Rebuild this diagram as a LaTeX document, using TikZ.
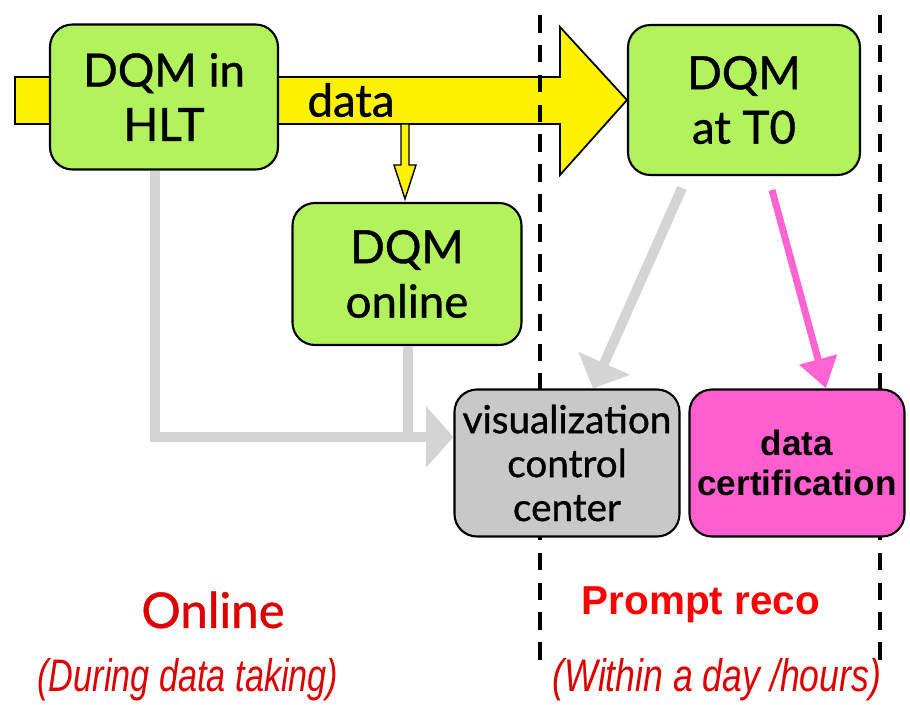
\documentclass[tikz,border=0pt]{standalone}
\usepackage{fontspec}
\setmainfont{Lato}
\newfontfamily\boxfont{Lato}[FakeBold=0.9]
\newfontfamily\arialfont{Liberation Sans}
\usetikzlibrary{arrows.meta}
\definecolor{boxgreen}{RGB}{178,242,92}
\definecolor{boxgray}{RGB}{200,200,200}
\definecolor{boxpink}{RGB}{255,94,207}
\definecolor{linegray}{RGB}{212,212,212}
\definecolor{arrowpink}{RGB}{255,100,210}
\definecolor{labelred}{RGB}{220,0,0}
\tikzset{
  dqmbox/.style={draw=black, line width=1.2pt, rounded corners=0.45cm, fill=boxgreen,
    align=center, inner sep=0pt, font=\boxfont\fontsize{26}{31}\selectfont},
  flow/.style={draw=linegray, line width=0.2cm},
  divider/.style={black, line width=1.8pt, dash pattern=on 10pt off 7pt}
}
\begin{document}
\begin{tikzpicture}[x=0.02cm,y=-0.02cm]
\useasboundingbox (0,0) rectangle (910,704);
\draw [black, line width=1pt, fill=yellow] (15,77) -- (560,77) -- (560,27) -- (627,100) -- (560,175) -- (560,124) -- (15,124) -- cycle;
\draw [black, line width=0.8pt, fill=yellow] (401,124) -- (409,124) -- (409,165) -- (416,165) -- (405,199) -- (394,165) -- (401,165) -- cycle;
\node (datalabel) at (351,100) {\boxfont\fontsize{26}{31}\selectfont data};
\draw [divider] (540,15) -- (540,665);
\draw [divider] (880,15) -- (880,665);
\node [dqmbox, minimum width=228*0.02cm, minimum height=145*0.02cm] (hlt) at (164,97) {DQM in\\HLT};
\node [dqmbox, minimum width=232*0.02cm, minimum height=150*0.02cm] (tzero) at (744,100) {DQM\\at T0};
\node [dqmbox, minimum width=229*0.02cm, minimum height=142*0.02cm] (online) at (407,274) {DQM\\online};
\node [dqmbox, fill=boxgray, minimum width=225*0.02cm, minimum height=147*0.02cm,
  font=\boxfont\fontsize{22}{25}\selectfont] (vis) at (567,463) {visualization\\control\\center};
\node [dqmbox, fill=boxpink, minimum width=215*0.02cm, minimum height=147*0.02cm,
  font=\arialfont\bfseries\fontsize{20}{23}\selectfont] (cert) at (797,463) {data\\certification};
\coordinate (join) at (408,437);
\draw [flow] (online.south -| join) -- (join);
\draw [flow, -{Triangle[width=1.2cm,length=0.55cm]}] (hlt.south -| 155,0) -- (155,437) -- (vis.west |- join);
\draw [flow, -{Triangle[width=1.1cm,length=0.55cm]}] (682,188) -- (vis.north -| 593,0);
\draw [draw=arrowpink, line width=0.14cm, -{Triangle[width=0.75cm,length=0.6cm]}] (772,190) -- (cert.north -| 826,0);
\node [text=labelred] (onlinelbl) at (213,610) {\boxfont\fontsize{28}{32}\selectfont Online};
\node [text=labelred, xscale=0.75] (duringlbl) at (188,680) {\arialfont\itshape\fontsize{26}{30}\selectfont (During data taking)};
\node [text=red] (promptlbl) at (701,605) {\arialfont\bfseries\fontsize{23}{28}\selectfont Prompt reco};
\node [text=labelred, xscale=0.78] (withinlbl) at (717,680) {\arialfont\itshape\fontsize{26}{30}\selectfont (Within a day /hours)};
\end{tikzpicture}
\end{document}
